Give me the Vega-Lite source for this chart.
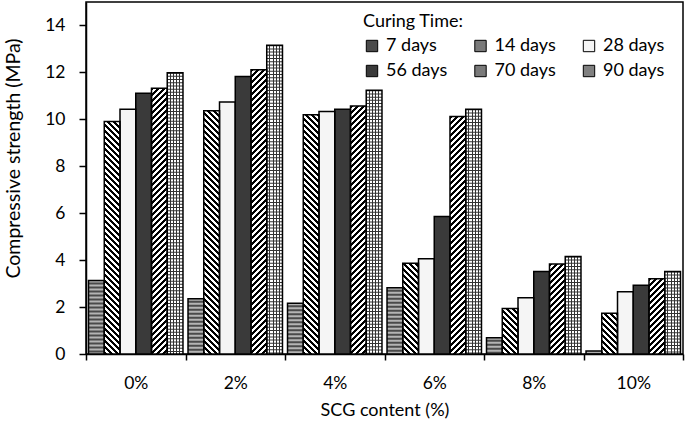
{
  "$schema": "https://vega.github.io/schema/vega-lite/v6.json",
  "width": 597,
  "height": 352,
  "autosize": {"type": "none"},
  "padding": {"left": 86, "top": 2, "right": 2, "bottom": 71},
  "config": {
    "font": "Lato",
    "view": {"stroke": "#000", "strokeWidth": 1.5},
    "axis": {
      "labelColor": "#000", "titleColor": "#000", "domainColor": "#000", "tickColor": "#000",
      "domainWidth": 1.5, "tickWidth": 1.5, "labelFontSize": 17.5, "titleFontSize": 18,
      "titleFontWeight": "normal", "grid": false
    }
  },
  "params": [
    {
      "name": "hatch",
      "value": [
        {"offset":0,"color":"#000"},
        {"offset":0.01,"color":"#000"},{"offset":0.01,"color":"#fff"},{"offset":0.02,"color":"#fff"},{"offset":0.02,"color":"#000"},
        {"offset":0.03,"color":"#000"},{"offset":0.03,"color":"#fff"},{"offset":0.04,"color":"#fff"},{"offset":0.04,"color":"#000"},
        {"offset":0.05,"color":"#000"},{"offset":0.05,"color":"#fff"},{"offset":0.06,"color":"#fff"},{"offset":0.06,"color":"#000"},
        {"offset":0.07,"color":"#000"},{"offset":0.07,"color":"#fff"},{"offset":0.08,"color":"#fff"},{"offset":0.08,"color":"#000"},
        {"offset":0.09,"color":"#000"},{"offset":0.09,"color":"#fff"},{"offset":0.10,"color":"#fff"},{"offset":0.10,"color":"#000"},
        {"offset":0.11,"color":"#000"},{"offset":0.11,"color":"#fff"},{"offset":0.12,"color":"#fff"},{"offset":0.12,"color":"#000"},
        {"offset":0.13,"color":"#000"},{"offset":0.13,"color":"#fff"},{"offset":0.14,"color":"#fff"},{"offset":0.14,"color":"#000"},
        {"offset":0.15,"color":"#000"},{"offset":0.15,"color":"#fff"},{"offset":0.16,"color":"#fff"},{"offset":0.16,"color":"#000"},
        {"offset":0.17,"color":"#000"},{"offset":0.17,"color":"#fff"},{"offset":0.18,"color":"#fff"},{"offset":0.18,"color":"#000"},
        {"offset":0.19,"color":"#000"},{"offset":0.19,"color":"#fff"},{"offset":0.20,"color":"#fff"},{"offset":0.20,"color":"#000"},
        {"offset":0.21,"color":"#000"},{"offset":0.21,"color":"#fff"},{"offset":0.22,"color":"#fff"},{"offset":0.22,"color":"#000"},
        {"offset":0.23,"color":"#000"},{"offset":0.23,"color":"#fff"},{"offset":0.24,"color":"#fff"},{"offset":0.24,"color":"#000"},
        {"offset":0.25,"color":"#000"},{"offset":0.25,"color":"#fff"},{"offset":0.26,"color":"#fff"},{"offset":0.26,"color":"#000"},
        {"offset":0.27,"color":"#000"},{"offset":0.27,"color":"#fff"},{"offset":0.28,"color":"#fff"},{"offset":0.28,"color":"#000"},
        {"offset":0.29,"color":"#000"},{"offset":0.29,"color":"#fff"},{"offset":0.30,"color":"#fff"},{"offset":0.30,"color":"#000"},
        {"offset":0.31,"color":"#000"},{"offset":0.31,"color":"#fff"},{"offset":0.32,"color":"#fff"},{"offset":0.32,"color":"#000"},
        {"offset":0.33,"color":"#000"},{"offset":0.33,"color":"#fff"},{"offset":0.34,"color":"#fff"},{"offset":0.34,"color":"#000"},
        {"offset":0.35,"color":"#000"},{"offset":0.35,"color":"#fff"},{"offset":0.36,"color":"#fff"},{"offset":0.36,"color":"#000"},
        {"offset":0.37,"color":"#000"},{"offset":0.37,"color":"#fff"},{"offset":0.38,"color":"#fff"},{"offset":0.38,"color":"#000"},
        {"offset":0.39,"color":"#000"},{"offset":0.39,"color":"#fff"},{"offset":0.40,"color":"#fff"},{"offset":0.40,"color":"#000"},
        {"offset":0.41,"color":"#000"},{"offset":0.41,"color":"#fff"},{"offset":0.42,"color":"#fff"},{"offset":0.42,"color":"#000"},
        {"offset":0.43,"color":"#000"},{"offset":0.43,"color":"#fff"},{"offset":0.44,"color":"#fff"},{"offset":0.44,"color":"#000"},
        {"offset":0.45,"color":"#000"},{"offset":0.45,"color":"#fff"},{"offset":0.46,"color":"#fff"},{"offset":0.46,"color":"#000"},
        {"offset":0.47,"color":"#000"},{"offset":0.47,"color":"#fff"},{"offset":0.48,"color":"#fff"},{"offset":0.48,"color":"#000"},
        {"offset":0.49,"color":"#000"},{"offset":0.49,"color":"#fff"},{"offset":0.50,"color":"#fff"},{"offset":0.50,"color":"#000"},
        {"offset":0.51,"color":"#000"},{"offset":0.51,"color":"#fff"},{"offset":0.52,"color":"#fff"},{"offset":0.52,"color":"#000"},
        {"offset":0.53,"color":"#000"},{"offset":0.53,"color":"#fff"},{"offset":0.54,"color":"#fff"},{"offset":0.54,"color":"#000"},
        {"offset":0.55,"color":"#000"},{"offset":0.55,"color":"#fff"},{"offset":0.56,"color":"#fff"},{"offset":0.56,"color":"#000"},
        {"offset":0.57,"color":"#000"},{"offset":0.57,"color":"#fff"},{"offset":0.58,"color":"#fff"},{"offset":0.58,"color":"#000"},
        {"offset":0.59,"color":"#000"},{"offset":0.59,"color":"#fff"},{"offset":0.60,"color":"#fff"},{"offset":0.60,"color":"#000"},
        {"offset":0.61,"color":"#000"},{"offset":0.61,"color":"#fff"},{"offset":0.62,"color":"#fff"},{"offset":0.62,"color":"#000"},
        {"offset":0.63,"color":"#000"},{"offset":0.63,"color":"#fff"},{"offset":0.64,"color":"#fff"},{"offset":0.64,"color":"#000"},
        {"offset":0.65,"color":"#000"},{"offset":0.65,"color":"#fff"},{"offset":0.66,"color":"#fff"},{"offset":0.66,"color":"#000"},
        {"offset":0.67,"color":"#000"},{"offset":0.67,"color":"#fff"},{"offset":0.68,"color":"#fff"},{"offset":0.68,"color":"#000"},
        {"offset":0.69,"color":"#000"},{"offset":0.69,"color":"#fff"},{"offset":0.70,"color":"#fff"},{"offset":0.70,"color":"#000"},
        {"offset":0.71,"color":"#000"},{"offset":0.71,"color":"#fff"},{"offset":0.72,"color":"#fff"},{"offset":0.72,"color":"#000"},
        {"offset":0.73,"color":"#000"},{"offset":0.73,"color":"#fff"},{"offset":0.74,"color":"#fff"},{"offset":0.74,"color":"#000"},
        {"offset":0.75,"color":"#000"},{"offset":0.75,"color":"#fff"},{"offset":0.76,"color":"#fff"},{"offset":0.76,"color":"#000"},
        {"offset":0.77,"color":"#000"},{"offset":0.77,"color":"#fff"},{"offset":0.78,"color":"#fff"},{"offset":0.78,"color":"#000"},
        {"offset":0.79,"color":"#000"},{"offset":0.79,"color":"#fff"},{"offset":0.80,"color":"#fff"},{"offset":0.80,"color":"#000"},
        {"offset":0.81,"color":"#000"},{"offset":0.81,"color":"#fff"},{"offset":0.82,"color":"#fff"},{"offset":0.82,"color":"#000"},
        {"offset":0.83,"color":"#000"},{"offset":0.83,"color":"#fff"},{"offset":0.84,"color":"#fff"},{"offset":0.84,"color":"#000"},
        {"offset":0.85,"color":"#000"},{"offset":0.85,"color":"#fff"},{"offset":0.86,"color":"#fff"},{"offset":0.86,"color":"#000"},
        {"offset":0.87,"color":"#000"},{"offset":0.87,"color":"#fff"},{"offset":0.88,"color":"#fff"},{"offset":0.88,"color":"#000"},
        {"offset":0.89,"color":"#000"},{"offset":0.89,"color":"#fff"},{"offset":0.90,"color":"#fff"},{"offset":0.90,"color":"#000"},
        {"offset":0.91,"color":"#000"},{"offset":0.91,"color":"#fff"},{"offset":0.92,"color":"#fff"},{"offset":0.92,"color":"#000"},
        {"offset":0.93,"color":"#000"},{"offset":0.93,"color":"#fff"},{"offset":0.94,"color":"#fff"},{"offset":0.94,"color":"#000"},
        {"offset":0.95,"color":"#000"},{"offset":0.95,"color":"#fff"},{"offset":0.96,"color":"#fff"},{"offset":0.96,"color":"#000"},
        {"offset":0.97,"color":"#000"},{"offset":0.97,"color":"#fff"},{"offset":0.98,"color":"#fff"},{"offset":0.98,"color":"#000"},
        {"offset":0.99,"color":"#000"},{"offset":0.99,"color":"#fff"},{"offset":1,"color":"#fff"}
      ]
    }
  ],
  "data": {
    "values": [
      {"scg": "0%", "time": "7 days", "v": 3.13},
      {"scg": "0%", "time": "14 days", "v": 9.91},
      {"scg": "0%", "time": "28 days", "v": 10.43},
      {"scg": "0%", "time": "56 days", "v": 11.11},
      {"scg": "0%", "time": "70 days", "v": 11.32},
      {"scg": "0%", "time": "90 days", "v": 11.99},
      {"scg": "2%", "time": "7 days", "v": 2.35},
      {"scg": "2%", "time": "14 days", "v": 10.37},
      {"scg": "2%", "time": "28 days", "v": 10.74},
      {"scg": "2%", "time": "56 days", "v": 11.83},
      {"scg": "2%", "time": "70 days", "v": 12.11},
      {"scg": "2%", "time": "90 days", "v": 13.16},
      {"scg": "4%", "time": "7 days", "v": 2.16},
      {"scg": "4%", "time": "14 days", "v": 10.19},
      {"scg": "4%", "time": "28 days", "v": 10.33},
      {"scg": "4%", "time": "56 days", "v": 10.43},
      {"scg": "4%", "time": "70 days", "v": 10.57},
      {"scg": "4%", "time": "90 days", "v": 11.24},
      {"scg": "6%", "time": "7 days", "v": 2.82},
      {"scg": "6%", "time": "14 days", "v": 3.87},
      {"scg": "6%", "time": "28 days", "v": 4.06},
      {"scg": "6%", "time": "56 days", "v": 5.86},
      {"scg": "6%", "time": "70 days", "v": 10.12},
      {"scg": "6%", "time": "90 days", "v": 10.43},
      {"scg": "8%", "time": "7 days", "v": 0.69},
      {"scg": "8%", "time": "14 days", "v": 1.94},
      {"scg": "8%", "time": "28 days", "v": 2.4},
      {"scg": "8%", "time": "56 days", "v": 3.52},
      {"scg": "8%", "time": "70 days", "v": 3.84},
      {"scg": "8%", "time": "90 days", "v": 4.16},
      {"scg": "10%", "time": "7 days", "v": 0.13},
      {"scg": "10%", "time": "14 days", "v": 1.74},
      {"scg": "10%", "time": "28 days", "v": 2.65},
      {"scg": "10%", "time": "56 days", "v": 2.93},
      {"scg": "10%", "time": "70 days", "v": 3.21},
      {"scg": "10%", "time": "90 days", "v": 3.52}
    ]
  },
  "encoding": {
    "x": {
      "field": "scg",
      "type": "nominal",
      "scale": {"domain": ["0%", "2%", "4%", "6%", "8%", "10%"], "paddingInner": 0, "paddingOuter": 0},
      "axis": {"title": "SCG content (%)", "labelAngle": 0, "tickBand": "extent", "tickSize": 6, "labelPadding": 14, "titlePadding": 10}
    },
    "xOffset": {
      "field": "time",
      "type": "nominal",
      "scale": {"domain": ["7 days", "14 days", "28 days", "56 days", "70 days", "90 days"], "paddingInner": 0, "paddingOuter": 0.16}
    },
    "y": {
      "field": "v",
      "type": "quantitative",
      "scale": {"domain": [0, 15], "nice": false},
      "axis": {"title": "Compressive strength (MPa)", "titleFontSize": 19.5, "values": [0, 2, 4, 6, 8, 10, 12, 14], "tickSize": 7, "labelPadding": 14, "titleX": -63, "titleY": 156}
    }
  },
  "layer": [
    {
      "mark": {"type": "bar"},
      "encoding": {
        "color": {
          "field": "time",
          "type": "nominal",
          "scale": {
            "domain": ["7 days", "14 days", "28 days", "56 days", "70 days", "90 days"],
            "range": ["#4a4a4a", "#7a7a7a", "#f5f5f5", "#3a3a3a", "#7a7a7a", "#808080"]
          },
          "legend": {
            "title": "Curing Time:", "orient": "none", "legendX": 277, "legendY": 11, "columns": 3,
            "direction": "horizontal",
            "columnPadding": 23.5, "rowPadding": 7, "titlePadding": 6, "symbolType": "square", "symbolSize": 130,
            "symbolStrokeColor": "#000", "symbolStrokeWidth": 1, "symbolOpacity": 1, "labelFontSize": 18,
            "titleFontSize": 18, "titleFontWeight": "normal", "labelColor": "#000", "titleColor": "#000",
            "labelOffset": 5, "padding": 0
          }
        }
      }
    },
    {
      "transform": [{"filter": "datum.time == '7 days'"}],
      "mark": {"type": "rule", "strokeWidth": 15.7, "strokeDash": [2, 2], "color": "#b4b4b4", "strokeCap": "butt"},
      "encoding": {"y2": {"datum": 0}}
    },
    {
      "transform": [{"filter": "datum.time == '14 days'"}],
      "mark": {"type": "bar"},
      "encoding": {
        "fill": {"value": {"expr": "{gradient: 'linear', x1: 0, y1: 1, x2: 4723.2 / (247.87 + pow(datum.v * 23.4667, 2)), y2: 1 - 300 * datum.v * 23.4667 / (247.87 + pow(datum.v * 23.4667, 2)), stops: hatch}"}}
      }
    },
    {
      "transform": [{"filter": "datum.time == '70 days'"}],
      "mark": {"type": "bar"},
      "encoding": {
        "fill": {"value": {"expr": "{gradient: 'linear', x1: 0, y1: 0, x2: 4723.2 / (247.87 + pow(datum.v * 23.4667, 2)), y2: 300 * datum.v * 23.4667 / (247.87 + pow(datum.v * 23.4667, 2)), stops: hatch}"}}
      }
    },
    {
      "transform": [{"filter": "datum.time == '90 days'"}],
      "mark": {
        "type": "bar",
        "fill": {
          "gradient": "linear", "x1": 0, "y1": 0, "x2": 1, "y2": 0,
          "stops": [
            {"offset": 0, "color": "#fff"}, {"offset": 0.17, "color": "#fff"},
            {"offset": 0.17, "color": "#333"}, {"offset": 0.23, "color": "#333"},
            {"offset": 0.23, "color": "#fff"}, {"offset": 0.37, "color": "#fff"},
            {"offset": 0.37, "color": "#333"}, {"offset": 0.43, "color": "#333"},
            {"offset": 0.43, "color": "#fff"}, {"offset": 0.57, "color": "#fff"},
            {"offset": 0.57, "color": "#333"}, {"offset": 0.63, "color": "#333"},
            {"offset": 0.63, "color": "#fff"}, {"offset": 0.77, "color": "#fff"},
            {"offset": 0.77, "color": "#333"}, {"offset": 0.83, "color": "#333"},
            {"offset": 0.83, "color": "#fff"}, {"offset": 1, "color": "#fff"}
          ]
        }
      }
    },
    {
      "transform": [{"filter": "datum.time == '90 days'"}],
      "mark": {"type": "rule", "strokeWidth": 15.7, "strokeDash": [1, 2.2], "color": "#333", "strokeCap": "butt"},
      "encoding": {"y2": {"datum": 0}}
    },
    {
      "mark": {"type": "bar", "fillOpacity": 0, "stroke": "#000", "strokeWidth": 1.5}
    }
  ]
}
